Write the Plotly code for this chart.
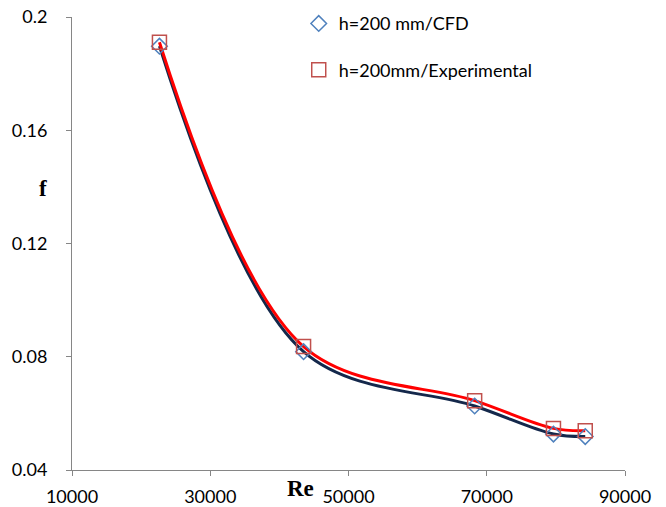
import plotly.graph_objects as go

re_vals = [22650, 43500, 68250, 79650, 84250]
f_cfd = [0.1897, 0.0818, 0.0626, 0.0527, 0.0518]
f_exp = [0.1911, 0.0836, 0.0645, 0.0547, 0.0539]
x_ticks = [10000, 30000, 50000, 70000, 90000]
y_ticks = [0.04, 0.08, 0.12, 0.16, 0.2]
y_tick_text = ["0.04", "0.08", "0.12", "0.16", "0.2"]

fig = go.Figure()
fig.add_trace(go.Scatter(x=re_vals, y=f_cfd, mode="lines", line=dict(color="#14284B", width=3, shape="spline", smoothing=1.0), showlegend=False, hoverinfo="skip"))
fig.add_trace(go.Scatter(x=re_vals, y=f_exp, mode="lines", line=dict(color="#FF0000", width=3, shape="spline", smoothing=1.0), showlegend=False, hoverinfo="skip"))
fig.add_trace(go.Scatter(x=re_vals, y=f_cfd, mode="markers", name="h=200 mm/CFD", legendgroup="a",
                         marker=dict(symbol="diamond-open", size=12, color="#4F81BD", line=dict(width=1.5, color="#4F81BD"))))
fig.add_trace(go.Scatter(x=re_vals, y=f_exp, mode="markers", name="h=200mm/Experimental", legendgroup="b",
                         marker=dict(symbol="square-open", size=14, color="#C0504D", line=dict(width=1.5, color="#C0504D"))))

axis_common = dict(showgrid=False, zeroline=False, showline=True, linecolor="#868686", linewidth=1,
                   ticks="outside", ticklen=5, tickcolor="#868686", tickwidth=1, automargin=False,
                   ticklabeloverflow="allow",
                   tickfont=dict(family="Lato, Carlito, sans-serif", size=18, color="#000000"))

fig.update_layout(
    width=666, height=507,
    margin=dict(l=72, r=41, t=17, b=37, autoexpand=False),
    paper_bgcolor="white", plot_bgcolor="white",
    xaxis=dict(range=[10000, 90000], tickvals=x_ticks, ticktext=[str(v) for v in x_ticks], ticklabelstandoff=5, **axis_common),
    yaxis=dict(range=[0.04, 0.2], tickvals=y_ticks, ticktext=y_tick_text, ticklabelstandoff=15, **axis_common),
    legend=dict(x=0.41, y=1.026, xanchor="left", yanchor="top", bgcolor="rgba(0,0,0,0)",
                font=dict(family="Lato, Carlito, sans-serif", size=18, color="#000000"),
                tracegroupgap=20, itemwidth=30),
    annotations=[
        dict(text="<b>Re</b>", x=43000, y=-(488 - 470) / 453, xref="x", yref="paper", showarrow=False,
             xanchor="center", yanchor="middle",
             font=dict(family="Liberation Serif, Times New Roman, serif", size=23, color="#000000")),
        dict(text="<b>f</b>", x=-0.052, y=0.6225, xref="paper", yref="paper", showarrow=False,
             xanchor="center", yanchor="middle",
             font=dict(family="Liberation Serif, Times New Roman, serif", size=23, color="#000000")),
    ],
)

fig.write_html("out.html", config={"displayModeBar": False},
               post_script="document.body.style.margin='0';document.body.style.overflow='hidden';")
